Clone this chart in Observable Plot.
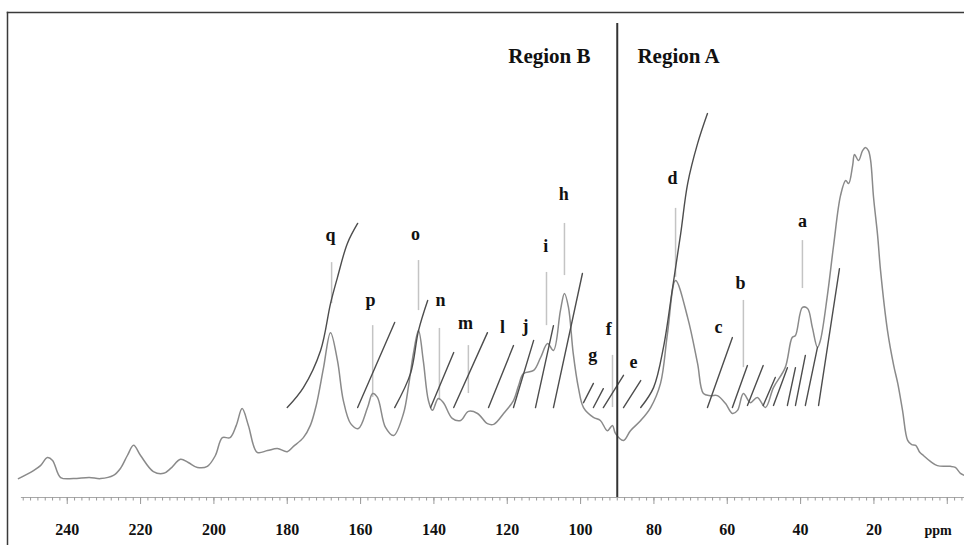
<!DOCTYPE html>
<html>
<head>
<meta charset="utf-8">
<script src="https://cdn.jsdelivr.net/npm/d3@7"></script>
<script src="https://cdn.jsdelivr.net/npm/@observablehq/plot@0.6"></script>
<style>
  html, body { margin: 0; padding: 0; background: #fff; }
  #chart { width: 964px; height: 545px; overflow: hidden; }
</style>
</head>
<body>
<div id="chart"></div>
<script>
// 13C NMR spectrum: [chemical shift (ppm), relative intensity]
const spectrum = [
  [253.3,5.4],[249.2,7.7],[247.3,9.1],[245.4,11.4],[244.0,10.6],[241.8,5.7],[238.3,5.4],[234.0,5.7],
  [230.9,5.4],[227.4,6.3],[225.5,8.3],[223.6,12.0],[221.9,14.9],[220.0,12.0],[216.5,7.4],[213.7,6.9],
  [211.8,8.3],[209.1,10.9],[207.0,10.0],[204.5,8.6],[201.8,8.9],[199.6,12.0],[197.7,17.1],[195.6,17.1],
  [193.9,20.6],[192.3,25.4],[190.6,20.6],[188.2,12.9],[185.4,13.4],[182.7,14.0],[180.0,13.1],[178.3,14.6],
  [175.6,17.1],[173.7,20.6],[172.1,26.3],[170.1,37.1],[168.2,47.1],[166.3,39.1],[164.7,27.7],[162.7,21.1],
  [160.6,19.7],[158.1,25.7],[156.7,29.7],[155.4,28.6],[153.2,20.0],[151.0,17.7],[148.3,24.0],[146.9,32.0],
  [145.6,41.1],[144.2,47.7],[142.9,39.1],[141.5,27.7],[140.4,24.9],[138.8,28.3],[137.4,27.1],[135.0,22.6],
  [132.7,22.0],[130.6,24.6],[128.1,24.0],[125.4,21.1],[123.7,20.9],[121.0,24.0],[118.3,27.7],[116.9,32.0],
  [115.6,35.4],[112.8,36.3],[110.9,40.0],[109.0,44.0],[107.4,42.0],[105.5,53.4],[104.4,58.3],[103.3,54.3],
  [102.0,41.1],[100.6,31.4],[99.2,25.7],[96.5,22.9],[94.6,22.0],[92.7,19.1],[91.3,20.6],[90.5,18.3],
  [88.3,16.3],[86.4,19.1],[83.6,22.0],[80.9,25.7],[78.2,32.6],[76.3,46.9],[74.1,62.0],[70.8,51.4],
  [68.1,38.3],[66.5,29.7],[64.6,29.1],[62.7,29.1],[60.5,26.9],[58.6,24.0],[57.2,24.9],[55.6,29.7],
  [53.7,27.1],[51.8,28.6],[49.6,25.7],[47.4,31.4],[44.2,37.1],[42.3,45.7],[41.4,46.3],[39.5,54.3],
  [38.1,54.0],[36.8,48.6],[35.4,42.9],[34.6,44.9],[32.7,57.7],[31.0,72.0],[29.1,86.3],[27.7,90.6],
  [26.9,89.7],[25.8,94.9],[25.3,98.0],[24.2,96.3],[23.1,99.1],[22.3,100],[21.5,99.1],[20.9,96.3],
  [20.1,85.7],[19.0,74.9],[18.2,64.9],[16.3,47.7],[14.6,37.7],[13.5,32.6],[12.2,24.9],[10.8,16.3],
  [9.7,15.1],[8.6,14.9],[7.5,12.9],[6.5,12.0],[4.6,10.3],[2.7,9.1],[0.5,8.9],[-0.8,8.9],
  [-2.2,8.6],[-3.6,6.9],[-4.7,6.3]
];

// integral traces: [ppm, integral level]
const integralQ = [[180.0,25.7],[175.6,31.4],[170.9,42.0],[168.2,55.4],[166.3,62.9],[163.6,72.6],[160.8,78.3]];
const integralP = [[160.8,25.7],[150.7,50.0]];
const integralO = [[150.7,25.7],[146.4,35.4],[144.2,47.7],[141.7,56.3]];
const integralN = [[140.9,25.7],[134.6,41.4]];
const integralM = [[134.6,25.7],[125.4,47.1]];
const integralL = [[125.1,25.7],[118.3,43.4]];
const integralJ = [[118.3,25.7],[112.8,44.9]];
const integralI = [[112.3,25.7],[107.4,49.1]];
const integralH = [[107.4,25.7],[99.5,64.0]];
const integralG1 = [[99.2,27.1],[96.5,32.6]];
const integralG2 = [[96.5,25.7],[93.8,31.1]];
const integralF = [[93.8,25.7],[88.3,34.9]];
const integralE = [[88.3,25.7],[83.6,33.4]];
const integralD = [[83.6,25.7],[80.1,31.4],[77.4,42.9],[74.9,60.0],[72.7,75.4],[70.8,89.7],[68.1,101.1],[65.4,109.7]];
const integralC = [[65.4,25.7],[58.6,45.7]];
const integralsA = [
  [[58.6,25.7],[54.5,37.7]], [[54.5,26.3],[50.2,37.7]], [[50.2,26.3],[46.9,34.3]],
  [[47.4,26.3],[43.6,37.1]], [[43.6,26.3],[41.4,37.1]], [[41.4,26.3],[38.7,40.6]],
  [[38.7,26.3],[35.4,42.9]], [[35.1,26.3],[29.4,65.4]]
];

// peak letters: text, ppm, level (baseline)
const peakLetters = ["q","p","o","n","m","l","j","i","h","g","f","e","d","c","b","a"];
const peakLetterPpm = [168.2,157.3,145.0,138.2,131.4,121.3,115.0,109.5,104.6,96.7,92.3,85.6,74.9,62.4,56.4,39.5];
const peakLetterLevel = [73.4,54.6,73.7,54.6,48.0,46.9,47.4,70.0,84.9,38.9,46.3,36.9,89.7,47.1,59.7,77.4];

// leader lines: ppm, top, bottom
const leaderPpm = [167.9,156.7,144.2,138.5,130.6,109.3,104.4,91.3,74.1,55.6,39.5];
const leaderTop = [67.1,49.1,67.7,48.3,43.4,64.3,78.3,40.6,82.6,56.3,73.4];
const leaderBottom = [55.4,28.6,53.4,27.7,29.7,49.1,63.4,25.7,62.9,37.1,59.7];

const tickLabels = [240,220,200,180,160,140,120,100,80,60,40,20];
const minorTicks = d3.range(-4, 253, 2);
const majorTicks = [240,220,200,180,160,140,120,100,80,60,40,20,0];
const regionDivider = 90;

const integralSets = [integralQ,integralP,integralO,integralN,integralM,integralL,integralJ,integralI,
  integralH,integralG1,integralG2,integralF,integralE,integralD,integralC,...integralsA];
const integralData = integralSets.flatMap((seg, k) => seg.map(([p, v]) => ({p, v, k})));
const letters = peakLetters.map((t, i) => ({t, p: peakLetterPpm[i], v: peakLetterLevel[i]}));
const leaders = leaderPpm.map((p, i) => ({p, y1: leaderTop[i], y2: leaderBottom[i]}));

const serif = "'Times New Roman', 'Liberation Serif', 'DejaVu Serif', serif";
const labelY = -10.6;

const chart = Plot.plot({
  width: 964,
  height: 545,
  marginTop: 12,
  marginLeft: 7,
  marginRight: 0,
  marginBottom: 0,
  x: {domain: [258.2, -4.7], range: [0, 964], axis: null},
  y: {domain: [0, 138.57], range: [497, 12], axis: null},
  style: {background: "#fff"},
  marks: [
    Plot.frame({anchor: "top", stroke: "#3a3a3a", strokeWidth: 1.5}),
    Plot.frame({anchor: "left", stroke: "#3a3a3a", strokeWidth: 1.5}),
    Plot.ruleY([0], {x1: 252.5, x2: -4.7, stroke: "#a8a8a8", strokeWidth: 1}),
    Plot.ruleX(minorTicks, {x: d => d, y1: 0, y2: -1, stroke: "#9a9a9a", strokeWidth: 1}),
    Plot.ruleX(majorTicks, {x: d => d, y1: 0, y2: -2, stroke: "#9a9a9a", strokeWidth: 1}),
    Plot.text(tickLabels, {x: d => d, y: labelY, text: d => String(d), lineAnchor: "bottom",
      fontFamily: serif, fontWeight: "bold", fontSize: 16, fill: "#111"}),
    Plot.text(["ppm"], {x: 2.5, y: labelY, text: d => d, lineAnchor: "bottom",
      fontFamily: serif, fontWeight: "bold", fontSize: 14, fill: "#111"}),
    Plot.ruleX(leaders, {x: "p", y1: "y1", y2: "y2", stroke: "#c4c4c4", strokeWidth: 1.5}),
    Plot.line(spectrum, {x: d => d[0], y: d => d[1], stroke: "#8a8a8a", strokeWidth: 1.5, curve: "catmull-rom"}),
    Plot.line(integralData, {x: "p", y: "v", z: "k", stroke: "#4d4d4d", strokeWidth: 1.4, curve: "catmull-rom"}),
    Plot.ruleX([regionDivider], {y1: 0, y2: 135.4, stroke: "#333", strokeWidth: 2}),
    Plot.text(letters, {x: "p", y: "v", text: "t", lineAnchor: "bottom",
      fontFamily: serif, fontWeight: "bold", fontSize: 18, fill: "#111"}),
    Plot.text(["Region B"], {x: 97.3, y: 124, text: d => d, textAnchor: "end", lineAnchor: "bottom",
      fontFamily: serif, fontWeight: "bold", fontSize: 21, fill: "#111"}),
    Plot.text(["Region A"], {x: 84.5, y: 124, text: d => d, textAnchor: "start", lineAnchor: "bottom",
      fontFamily: serif, fontWeight: "bold", fontSize: 21, fill: "#111"})
  ]
});
document.getElementById("chart").appendChild(chart);
</script>
</body>
</html>
